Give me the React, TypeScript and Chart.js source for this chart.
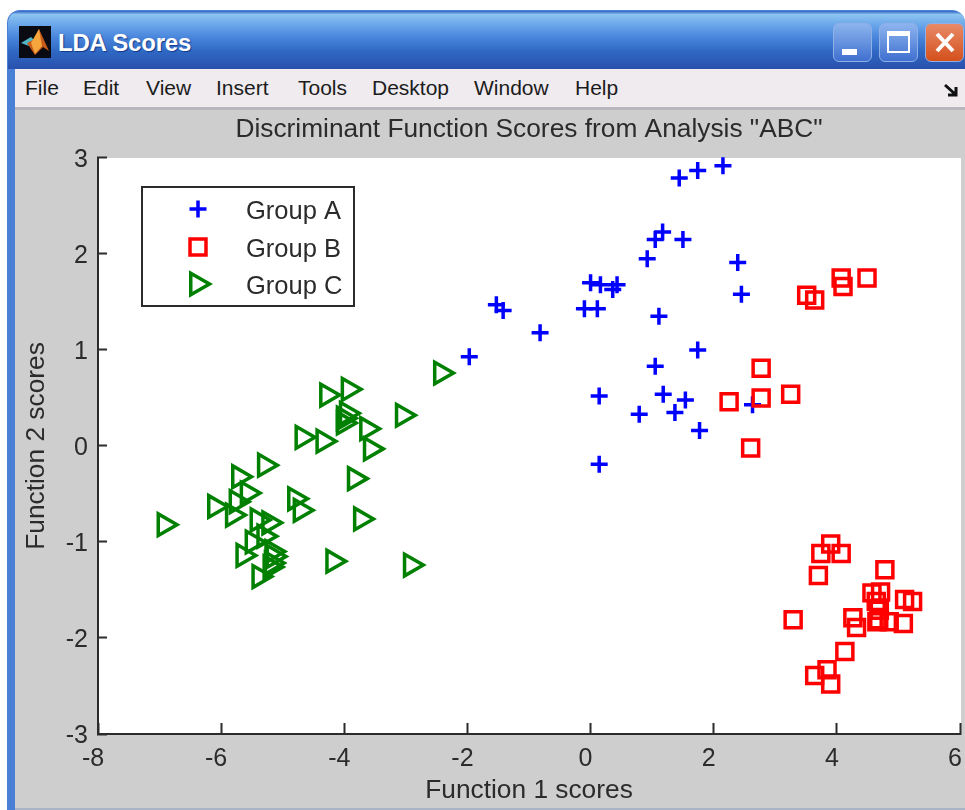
import React, { useEffect, useRef } from "react";
import { Chart, registerables, PointStyle } from "chart.js";
import { drawPoint } from "chart.js/helpers";

Chart.register(...registerables);

const chartTitle = 'Discriminant Function Scores from Analysis "ABC"';
const xAxisTitle = "Function 1 scores";
const yAxisTitle = "Function 2 scores";
const windowTitle = "LDA Scores";
const groupNames = ["Group A", "Group B", "Group C"];
const menuItems: [string, number][] = [
  ["File", 25], ["Edit", 83], ["View", 146], ["Insert", 216],
  ["Tools", 298], ["Desktop", 372], ["Window", 474], ["Help", 575],
];

const groupAx = [1.44, 1.74, 2.15, 1.17, 1.05, 1.5, 0.92, 2.39, 2.45, 0, 0.16, 0.36, 0.43, -0.1, 0.11, 1.11, 1.74, 1.05, 0.14, 1.18, 1.54, 0.79, 1.37, 1.77, 2.63, 0.14, -1.53, -1.42, -0.82, -1.97];
const groupAy = [2.79, 2.87, 2.92, 2.23, 2.15, 2.15, 1.95, 1.91, 1.58, 1.7, 1.68, 1.63, 1.68, 1.43, 1.43, 1.35, 1.0, 0.83, 0.52, 0.54, 0.48, 0.33, 0.35, 0.16, 0.43, -0.19, 1.47, 1.41, 1.18, 0.93];
const groupBx = [4.07, 4.1, 4.49, 3.51, 3.64, 2.77, 3.25, 2.77, 2.25, 2.6, 3.9, 3.74, 4.07, 3.7, 4.78, 4.57, 4.71, 4.64, 5.1, 5.23, 4.26, 4.32, 4.68, 4.85, 5.08, 4.69, 4.65, 3.29, 4.13, 3.84, 3.64, 3.9];
const groupBy = [1.75, 1.66, 1.75, 1.57, 1.52, 0.81, 0.54, 0.5, 0.46, -0.02, -1.02, -1.12, -1.12, -1.35, -1.29, -1.53, -1.52, -1.62, -1.6, -1.62, -1.79, -1.89, -1.81, -1.83, -1.85, -1.71, -1.83, -1.81, -2.14, -2.33, -2.39, -2.48];
const groupCx = [-6.92, -6.1, -5.71, -5.29, -5.75, -5.57, -5.81, -5.41, -5.22, -5.49, -5.64, -5.38, -5.3, -5.17, -5.15, -5.18, -5.2, -4.8, -4.71, -3.83, -3.73, -4.18, -2.92, -4.68, -4.34, -4.28, -3.93, -3.96, -4.01, -4.01, -3.63, -3.57, -3.05, -2.43];
const groupCy = [-0.82, -0.63, -0.32, -0.2, -0.58, -0.49, -0.72, -0.77, -0.8, -1.0, -1.14, -1.36, -0.94, -1.1, -1.15, -1.22, -1.26, -0.55, -0.67, -0.34, -0.76, -1.2, -1.24, 0.09, 0.05, 0.53, 0.59, 0.34, 0.29, 0.24, 0.18, -0.03, 0.32, 0.76];

const FONT = "'Liberation Sans', Arial, sans-serif";
const INK = "#2b2b2b";
const BLUE = "#0000ff";
const RED = "#ff0000";
const GREEN = "#008000";

const zip = (xs: number[], ys: number[]) => xs.map((x, i) => ({ x, y: ys[i] }));

type Marker = { pointStyle: PointStyle; radius: number; rotation: number; borderWidth: number };
const markers: Marker[] = [
  { pointStyle: "cross", radius: 8.5, rotation: 0, borderWidth: 3.5 },
  { pointStyle: "rect", radius: 11.3, rotation: 0, borderWidth: 3.5 },
  { pointStyle: "triangle", radius: 12.5, rotation: 90, borderWidth: 3.5 },
];
const colors = [BLUE, RED, GREEN];

const insideAxes = {
  id: "insideAxes",
  beforeDraw(chart: Chart) {
    const { ctx, chartArea: a } = chart;
    ctx.save();
    ctx.fillStyle = "#ffffff";
    ctx.fillRect(a.left, a.top, a.right - a.left + 1, a.bottom - a.top);
    ctx.restore();
  },
  afterDraw(chart: Chart) {
    const { ctx } = chart;
    const box = { x: 142, y: 187, w: 212, h: 119 };
    const rowY = [209, 247, 284];
    const markX = [198, 198, 197];
    ctx.save();
    ctx.fillStyle = "#ffffff";
    ctx.strokeStyle = INK;
    ctx.lineWidth = 2;
    ctx.fillRect(box.x, box.y, box.w, box.h);
    ctx.strokeRect(box.x, box.y, box.w, box.h);
    chart.data.datasets.forEach((ds, i) => {
      ctx.strokeStyle = colors[i];
      ctx.fillStyle = "rgba(0,0,0,0)";
      ctx.lineWidth = markers[i].borderWidth;
      drawPoint(ctx, { pointStyle: markers[i].pointStyle, rotation: markers[i].rotation, radius: markers[i].radius, borderWidth: 3.5 }, markX[i], rowY[i]);
      ctx.fillStyle = INK;
      ctx.font = `25.5px ${FONT}`;
      ctx.textAlign = "left";
      ctx.textBaseline = "middle";
      ctx.fillText(ds.label as string, 246, rowY[i] + 3);
    });
    ctx.restore();
  },
};

function WindowChrome() {
  const base: React.CSSProperties = { position: "absolute" };
  const button = (left: number, width: number, bg: string): React.CSSProperties => ({
    ...base, left, top: 23, width, height: 39, borderRadius: 6, background: bg,
    border: "1px solid #8fb0e6", boxSizing: "border-box",
  });
  return (
    <>
      <div style={{ ...base, left: 7, top: 10, width: 958, height: 800, background: "#4a7fd6", borderRadius: "13px 13px 0 0" }} />
      <div style={{ ...base, left: 8, top: 11, width: 957, height: 58, borderRadius: "12px 12px 0 0", background: "linear-gradient(180deg,#2f62c4 0%,#8cc4f0 6%,#6aa6ea 24%,#4a86dc 45%,#2f68c4 70%,#2850ac 100%)" }} />
      <svg style={{ ...base, left: 19, top: 26 }} width="32" height="32" viewBox="0 0 32 32">
        <rect width="32" height="32" fill="#0a0a12" />
        <path d="M2 17 L12 11 L16 15 L10 20 Z" fill="#4fb6c8" />
        <path d="M20 3 L30 25 L24 21 L16 29 L8 17 L14 14 Z" fill="#c85a1a" />
        <path d="M20 3 L23 20 L16 28 L12 17 Z" fill="#f5a53c" />
      </svg>
      <div style={{ ...base, left: 58, top: 29, font: `bold 24px ${FONT}`, color: "#fff", textShadow: "1px 1px 1px #123a8a", whiteSpace: "nowrap", letterSpacing: -0.2 }}>{windowTitle}</div>
      <div style={button(833, 39, "linear-gradient(180deg,#8db4ee,#3f70d0)")}>
        <div style={{ ...base, left: 8, top: 25, width: 15, height: 6, background: "#fff" }} />
      </div>
      <div style={button(879, 39, "linear-gradient(180deg,#8db4ee,#3f70d0)")}>
        <div style={{ ...base, left: 7, top: 7, width: 23, height: 22, border: "2px solid #fff", borderTopWidth: 5, boxSizing: "border-box" }} />
      </div>
      <div style={button(925, 39, "linear-gradient(180deg,#e88a68,#d4501c)")}>
        <svg style={{ ...base, left: 7, top: 7 }} width="24" height="24"><path d="M4 3 L20 20 M20 3 L4 20" stroke="#fff" strokeWidth="4" /></svg>
      </div>
      <div style={{ ...base, left: 15, top: 69, width: 950, height: 38, background: "#efebef" }} />
      {menuItems.map(([label, left]) => (
        <div key={label} style={{ ...base, left, top: 76, font: `21px ${FONT}`, color: "#1c1c1c", whiteSpace: "nowrap" }}>{label}</div>
      ))}
      <svg style={{ ...base, left: 944, top: 83 }} width="16" height="14"><path d="M1 2 L11 11 M12 4 V12 H4" stroke="#111" strokeWidth="3" fill="none" /></svg>
      <div style={{ ...base, left: 15, top: 107, width: 950, height: 703, background: "#cecece" }} />
      <div style={{ ...base, left: 15, top: 107, width: 950, height: 3, background: "#b8b8bc" }} />
      <div style={{ ...base, left: 15, top: 808, width: 950, height: 2, background: "#a9b4c6" }} />
    </>
  );
}

export default function App() {
  const ref = useRef<HTMLCanvasElement>(null);
  useEffect(() => {
    document.body.style.margin = "0";
    const tickFont = { family: FONT, size: 25 };
    const chart = new Chart(ref.current!, {
      type: "scatter",
      data: {
        datasets: [
          { label: groupNames[0], data: zip(groupAx, groupAy), order: 3, borderColor: BLUE, ...markers[0] },
          { label: groupNames[1], data: zip(groupBx, groupBy), order: 2, borderColor: RED, ...markers[1] },
          { label: groupNames[2], data: zip(groupCx, groupCy), order: 1, borderColor: GREEN, ...markers[2] },
        ].map((d) => ({
          label: d.label, data: d.data, order: d.order, clip: false,
          pointStyle: d.pointStyle, pointRadius: d.radius, pointRotation: d.rotation,
          pointBorderColor: d.borderColor, pointBackgroundColor: "rgba(0,0,0,0)", pointBorderWidth: d.borderWidth,
        })),
      },
      options: {
        animation: false,
        responsive: false,
        layout: { autoPadding: false, padding: { top: 0, left: 0, right: 5, bottom: 0 } },
        plugins: {
          legend: { display: false },
          tooltip: { enabled: false },
          title: {
            display: true, text: chartTitle, color: INK, fullSize: false,
            font: { family: FONT, size: 26.3, weight: "normal", lineHeight: 1.2 },
            padding: { top: 113.5, bottom: 12.9 },
          },
        },
        scales: {
          x: {
            type: "linear", min: -8, max: 6,
            afterFit: (s) => { s.height = 76; s.paddingLeft = 0; s.paddingRight = 0; },
            grid: { drawOnChartArea: false, tickLength: -11, tickColor: INK, tickWidth: 2 },
            border: { color: INK, width: 2 },
            ticks: { stepSize: 2, autoSkip: false, maxRotation: 0, color: INK, font: tickFont, padding: 21, labelOffset: -5 },
            title: { display: true, text: xAxisTitle, color: INK, font: { family: FONT, size: 26.3, lineHeight: 1.2 }, padding: { top: 0, bottom: 3.2 } },
          },
          y: {
            type: "linear", min: -3, max: 3,
            afterFit: (s) => { s.width = 98; s.paddingTop = 0; s.paddingBottom = 0; },
            grid: { drawOnChartArea: false, tickLength: -9, tickColor: INK, tickWidth: 2 },
            border: { color: INK, width: 2 },
            ticks: { stepSize: 1, autoSkip: false, color: INK, font: tickFont, padding: 19, labelOffset: 2 },
            title: { display: true, text: yAxisTitle, color: INK, font: { family: FONT, size: 26.3, lineHeight: 1.2 }, padding: { top: 21, bottom: 0 } },
          },
        },
      },
      plugins: [insideAxes],
    });
    return () => chart.destroy();
  }, []);
  return (
    <div style={{ position: "absolute", left: 0, top: 0, width: 965, height: 810, overflow: "hidden", background: "#fff" }}>
      <WindowChrome />
      <canvas ref={ref} width={965} height={810} style={{ position: "absolute", left: 0, top: 0 }} />
    </div>
  );
}
